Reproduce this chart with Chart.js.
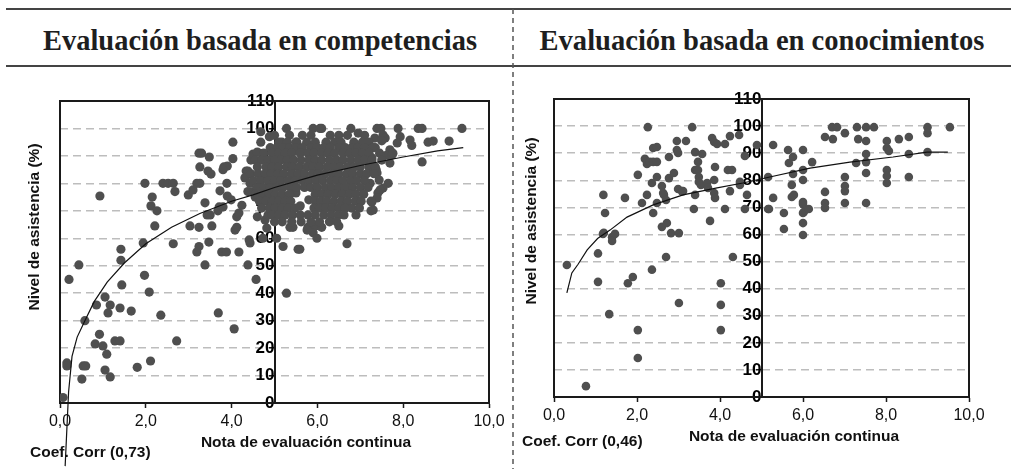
<!DOCTYPE html>
<html>
<head>
<meta charset="utf-8">
<script src="https://cdn.jsdelivr.net/npm/chart.js@4/dist/chart.umd.min.js"></script>
<style>
  html, body { margin: 0; padding: 0; background: #fff; }
  #page { position: relative; width: 1017px; height: 469px; overflow: hidden; }
  .title { position: absolute; top: 26px; line-height: 30px; white-space: nowrap;
           font-family: "Liberation Serif", serif; font-weight: bold; color: #1e1e1e; transform: translateX(-50%); }
  canvas { position: absolute; top: 70px; }
  svg { position: absolute; left: 0; top: 0; }
</style>
</head>
<body>
<div id="page">
  <svg width="1017" height="469">
    <line x1="6" y1="9" x2="1011" y2="9" stroke="#444" stroke-width="2"/>
    <line x1="6" y1="66" x2="1011" y2="66" stroke="#444" stroke-width="2"/>
    <line x1="513" y1="9" x2="513" y2="469" stroke="#555" stroke-width="1.5" stroke-dasharray="5,4"/>
  </svg>
  <div class="title" id="title-left" style="left:260px"></div>
  <div class="title" id="title-right" style="left:762px"></div>
  <canvas id="chart-left" width="510" height="399" style="left:0px"></canvas>
  <canvas id="chart-right" width="502" height="399" style="left:515px"></canvas>
</div>
<script>
// titles and labels
const titleLeft = 'Evaluación basada en competencias';
const titleRight = 'Evaluación basada en conocimientos';
const xAxisTitle = 'Nota de evaluación continua';
const yAxisTitle = 'Nivel de asistencia (%)';
const corrLeft = 'Coef. Corr (0,73)';
const corrRight = 'Coef. Corr (0,46)';

const xTicks = [0, 2, 4, 6, 8, 10];
const yTicks = [0, 10, 20, 30, 40, 50, 60, 70, 80, 90, 100, 110];

// competencias: scattered students (x = nota, y = asistencia)
const compSparse = [
    [0.07, 2], [0.16, 14.6], [0.16, 13.5], [0.21, 45], [0.44, 50.3], [0.51, 8.7], [0.58, 30],
    [0.54, 13.5], [0.6, 13.5], [0.85, 35.7], [0.93, 75.4], [1.05, 38.6], [1.17, 35.7], [1.12, 32.8],
    [1.4, 34.6], [1.66, 33.5], [1.44, 43], [0.92, 25], [0.82, 21.5], [1.0, 20.8], [1.09, 17.8],
    [1.28, 22.6], [1.4, 22.6], [1.05, 12], [1.17, 9.5], [1.8, 13], [2.11, 15.3], [2.08, 40.4],
    [1.97, 46.5], [2.35, 32], [2.72, 22.6], [3.69, 32.8], [4.06, 27], [4.57, 45], [5.28, 40],
    [1.42, 56], [1.42, 52], [1.94, 58.3], [2.64, 58], [1.98, 80], [2.4, 80], [2.52, 80], [2.64, 80],
    [2.68, 77], [2.15, 75], [2.12, 71.8], [2.26, 70], [2.21, 64.5],
    [2.99, 75.8], [3.1, 77.6], [3.19, 80], [3.26, 80], [3.24, 91], [3.3, 91], [3.48, 89.6], [3.26, 86],
    [3.45, 84.5], [3.52, 83.4], [3.38, 72.9], [3.43, 68.5], [3.5, 68.5], [3.54, 64.5], [3.03, 64.5],
    [3.24, 64], [3.24, 57], [3.19, 55], [3.47, 58.6], [3.38, 50.3],
    [3.73, 77.3], [3.71, 71.4], [3.68, 70], [3.8, 71.4], [3.82, 86], [3.9, 86.3], [3.8, 85], [3.89, 80],
    [4.03, 95], [4.03, 89], [3.9, 75.4], [3.99, 74], [4.12, 67.8], [4.12, 64], [4.08, 63], [3.77, 55],
    [3.88, 55], [4.17, 55], [4.38, 50.3], [4.43, 58.3], [4.41, 59.4], [4.17, 69.2], [4.24, 72],
    [4.34, 84.5], [4.38, 84.5], [4.31, 82], [4.45, 88.5], [4.5, 90.7], [4.6, 91.4], [4.68, 95],
    [4.68, 98.8], [4.88, 97], [4.55, 75], [4.5, 77], [4.38, 77], [4.43, 80], [4.6, 67.8], [4.78, 66.7],
    [4.82, 63.7], [4.85, 68.5], [4.73, 60], [5.05, 60], [5.2, 57], [5.55, 56], [5.28, 100], [5.52, 95],
    [5.17, 95], [5.9, 100], [6.06, 100], [5.43, 64], [5.36, 64], [5.78, 64], [5.95, 64.5], [6.1, 64],
    [5.9, 62], [5.99, 60], [5.76, 63],
    [6.1, 100], [6.78, 100], [7.39, 100], [7.48, 100], [7.88, 100], [8.35, 100], [8.44, 100], [9.37, 100],
    [6.95, 98.3], [7.53, 97.6], [7.58, 96.5], [7.34, 96.5], [7.93, 97], [7.86, 94.7], [8.16, 95.8],
    [8.2, 93.8], [8.58, 95], [8.7, 95.4], [9.07, 95.4], [7.69, 92.2], [7.62, 90.3], [7.74, 90.3],
    [7.76, 91], [7.27, 89.3], [8.44, 87.8], [7.69, 87.4], [7.37, 85], [7.39, 83.8], [7.3, 85],
    [7.44, 81.2], [7.65, 80], [7.23, 80], [7.53, 78.3], [7.46, 77.6], [7.41, 76.5], [7.39, 74.7],
    [7.27, 73.2], [7.3, 70.3], [7.25, 70], [6.76, 79], [6.5, 64.5], [6.69, 58], [5.59, 56],
    [7.5, 95.5], [7.35, 93],
    [5.5, 76.5], [5.8, 74], [5.6, 71.8]
];

// competencias: dense block, read row by row (asistencia, notas)
const compClusterRows = [
    [97.5, [5.0, 5.35, 5.65, 5.85, 6.3, 6.5, 6.7, 7.1]],
    [95,   [5.1, 5.3, 5.5, 5.75, 5.95, 6.2, 6.4, 6.55, 6.85, 7.05, 7.2]],
    [93,   [4.9, 5.05, 5.2, 5.35, 5.5, 5.65, 5.85, 6.0, 6.15, 6.3, 6.5, 6.65, 6.8, 6.95, 7.1, 7.3]],
    [91,   [4.75, 4.95, 5.1, 5.25, 5.4, 5.6, 5.78, 5.92, 6.1, 6.25, 6.4, 6.6, 6.75, 6.9, 7.05, 7.2, 7.45]],
    [88.5, [4.55, 4.7, 4.85, 5.0, 5.15, 5.3, 5.45, 5.62, 5.8, 5.95, 6.1, 6.28, 6.45, 6.6, 6.78, 6.95, 7.1, 7.27, 7.5]],
    [86,   [4.6, 4.8, 4.95, 5.1, 5.28, 5.42, 5.58, 5.75, 5.9, 6.05, 6.22, 6.38, 6.52, 6.7, 6.85, 7.0, 7.2, 7.35]],
    [83.5, [4.45, 4.62, 4.78, 4.92, 5.08, 5.22, 5.4, 5.55, 5.7, 5.88, 6.02, 6.18, 6.35, 6.5, 6.68, 6.82, 7.0, 7.15, 7.32]],
    [81,   [4.5, 4.68, 4.85, 5.0, 5.15, 5.32, 5.48, 5.65, 5.8, 5.97, 6.12, 6.3, 6.45, 6.6, 6.78, 6.92, 7.1]],
    [78.5, [4.6, 4.75, 4.9, 5.05, 5.2, 5.38, 5.52, 5.7, 5.85, 6.0, 6.18, 6.33, 6.5, 6.65, 6.82, 7.0, 7.18]],
    [76,   [4.55, 4.72, 4.88, 5.02, 5.18, 5.35, 5.95, 6.1, 6.25, 6.42, 6.58, 6.75, 6.9, 7.08]],
    [73.5, [4.65, 4.8, 4.95, 5.1, 5.25, 5.38, 5.95, 6.08, 6.22, 6.38, 6.55, 6.7, 6.88, 7.02, 7.25]],
    [71,   [4.7, 4.88, 5.02, 5.18, 5.32, 5.48, 5.92, 6.05, 6.2, 6.35, 6.5, 6.65, 6.8, 6.98]],
    [68.5, [4.95, 5.1, 5.25, 5.42, 5.6, 5.78, 5.95, 6.15, 6.32, 6.48, 6.62, 6.9]],
    [66,   [5.0, 5.18, 5.4, 5.62, 5.85, 6.05, 6.28, 6.45]]
];

// competencias: trend line as drawn in the figure
const compTrend = [
    [0.12, -23], [0.2, 4], [0.28, 17], [0.4, 24], [0.58, 30], [0.8, 37], [1.1, 44], [1.5, 51],
    [2.0, 58], [2.6, 64], [3.26, 69], [4.0, 73.5], [4.5, 75.8], [5.0, 78.5], [6.0, 83], [7.0, 86.5],
    [8.0, 89.6], [8.8, 91.8], [9.4, 93]
];

// conocimientos
const knowPoints = [
    [0.31, 48.7], [0.77, 4], [1.06, 42.5], [1.06, 53], [1.19, 74.6], [1.23, 67.9], [1.18, 60.2],
    [1.2, 60.6], [1.4, 59], [1.47, 60.2], [1.4, 57.6], [1.33, 30.6], [1.71, 73.5], [1.78, 42],
    [1.9, 44.3], [2.02, 82], [2.02, 24.7], [2.02, 14.4], [2.12, 71.6], [2.24, 74.6], [2.26, 99.6],
    [2.19, 87.9], [2.24, 86], [2.31, 86.8], [2.39, 86.8], [2.48, 86.8], [2.39, 91.9], [2.48, 92.3],
    [2.36, 79], [2.36, 47], [2.39, 67.9], [2.48, 81.2], [2.48, 71.6], [2.6, 77.9], [2.63, 75.3],
    [2.65, 74.6], [2.6, 62.8], [2.72, 64.2], [2.7, 72.7], [2.7, 51.7], [2.77, 88.6], [2.82, 60.5],
    [2.77, 80.8], [2.89, 82.7], [2.96, 94.5], [2.96, 91.2], [2.99, 90.1], [2.99, 76.8], [3.08, 76],
    [3.11, 76], [3.01, 60.5], [3.01, 34.7], [3.18, 94.5], [3.33, 99.6], [3.4, 90.4], [3.57, 89.7],
    [3.4, 83.8], [3.47, 83.8], [3.47, 86.8], [3.49, 81.2], [3.49, 79.4], [3.54, 78.3], [3.4, 74.6],
    [3.37, 69.4], [3.69, 79], [3.71, 77.2], [3.81, 95.6], [3.86, 94.1], [3.93, 93.4], [3.88, 84.9],
    [3.86, 80.1], [3.86, 75.3], [3.88, 73.5], [3.76, 65], [4.02, 42], [4.02, 34], [4.02, 24.7],
    [4.12, 93.4], [4.19, 83.8], [4.29, 83.8], [4.24, 96.3], [4.12, 69.4], [4.24, 76], [4.31, 51.7],
    [4.46, 96.7], [4.48, 79.4], [4.48, 78.3], [4.6, 89], [4.65, 74.6], [4.6, 69.4], [4.89, 93],
    [5.16, 69.4], [5.16, 81.2], [5.28, 93], [5.64, 91.2], [5.76, 88.6], [5.66, 86.4], [6.0, 91.2],
    [6.22, 86.7], [6.0, 83.8], [6.0, 80.1], [5.76, 82.3], [5.73, 78.3], [5.28, 73.5], [5.73, 73.8],
    [5.78, 74.6], [5.18, 69.4], [5.54, 67.9], [5.54, 62], [6.0, 72], [6.0, 71.2], [6.02, 68.3],
    [6.0, 67.9], [6.14, 69.4], [6.0, 64.2], [6.0, 59.8], [6.53, 96], [6.72, 95.2], [6.7, 99.6],
    [6.82, 99.6], [7.01, 97.4], [6.53, 75.7], [6.53, 71.6], [6.53, 69.8], [7.01, 81.2], [7.01, 77.9],
    [7.01, 76], [7.01, 71.6], [7.3, 99.6], [7.52, 99.6], [7.71, 99.6], [7.33, 95.2], [7.52, 94.5],
    [7.52, 89.7], [7.52, 86.7], [7.28, 86.4], [7.52, 82.7], [7.52, 71.6], [8.02, 94.5], [8.02, 91.9],
    [8.07, 90.8], [8.02, 83.8], [8.02, 81.6], [8.02, 79], [8.31, 95.2], [8.55, 96], [8.55, 89.7],
    [8.55, 81.2], [9.0, 99.6], [9.0, 97.4], [9.0, 90.4], [9.54, 99.6]
];

const knowTrend = [
    [0.31, 38.4], [0.43, 45.8], [0.58, 49], [0.8, 54.3], [1.05, 58.5], [1.35, 61.6], [1.76, 66.4],
    [2.39, 70.9], [3.11, 74.6], [3.93, 77.2], [4.55, 79], [5.2, 81.2], [6.17, 84.5], [7.13, 86.7],
    [8.17, 88.6], [8.99, 90.4], [9.49, 90.4]
];

const toXY = pairs => pairs.map(([x, y]) => ({ x, y }));
const compPoints = compSparse.concat(
    compClusterRows.flatMap(([y, xs]) => xs.map(x => [x, y]))
);

// frame round the plot area + free-standing axis texts
const frameAndText = {
    id: 'frameAndText',
    beforeDatasetsDraw(chart) {
        const { ctx, chartArea: a } = chart;
        ctx.save();
        ctx.strokeStyle = '#1a1a1a';
        ctx.lineWidth = 2;
        ctx.strokeRect(a.left, a.top, a.right - a.left, a.bottom - a.top);
        ctx.restore();
    },
    afterDraw(chart, args, opts) {
        const { ctx } = chart;
        ctx.save();
        ctx.fillStyle = '#111';
        ctx.font = 'bold 15.5px "Liberation Sans", Arial, sans-serif';
        ctx.textBaseline = 'middle';
        (opts.labels || []).forEach(l => {
            ctx.save();
            ctx.translate(l.x, l.y);
            if (l.rotate) ctx.rotate(l.rotate);
            ctx.textAlign = l.align || 'center';
            ctx.fillText(l.text, 0, 0);
            ctx.restore();
        });
        ctx.restore();
    }
};

function makeChart(id, points, trend, pointRadius, padding, labels) {
    return new Chart(document.getElementById(id), {
        type: 'scatter',
        data: {
            datasets: [
                {
                    data: toXY(trend),
                    showLine: true,
                    borderColor: '#111',
                    borderWidth: 1.2,
                    pointRadius: 0,
                    tension: 0,
                    clip: false,
                    order: 0
                },
                {
                    data: toXY(points),
                    backgroundColor: '#4f4f4f',
                    borderWidth: 0,
                    pointRadius: pointRadius,
                    order: 1
                }
            ]
        },
        options: {
            responsive: false,
            animation: false,
            layout: { padding },
            plugins: {
                legend: { display: false },
                tooltip: { enabled: false },
                frameAndText: { labels }
            },
            scales: {
                x: {
                    type: 'linear',
                    min: xTicks[0],
                    max: xTicks[xTicks.length - 1],
                    afterBuildTicks: s => { s.ticks = xTicks.map(v => ({ value: v })); },
                    afterFit: s => { s.height = 40; },
                    grid: { drawOnChartArea: false, tickLength: 5, tickColor: '#1a1a1a', tickWidth: 1.5 },
                    border: { color: '#1a1a1a', width: 2 },
                    ticks: {
                        color: '#111',
                        padding: 4,
                        maxRotation: 0,
                        font: { family: '"Liberation Sans", Arial, sans-serif', size: 16 },
                        callback: v => v.toFixed(1).replace('.', ',')
                    }
                },
                y: {
                    type: 'linear',
                    position: { x: 5 },
                    min: yTicks[0],
                    max: yTicks[yTicks.length - 1],
                    afterBuildTicks: s => { s.ticks = yTicks.map(v => ({ value: v })); },
                    grid: {
                        color: c => (c.tick && (c.tick.value === 0 || c.tick.value === 110)) ? 'rgba(0,0,0,0)' : '#bdbdbd',
                        lineWidth: 1.5,
                        tickLength: 5,
                        tickColor: '#1a1a1a',
                        tickWidth: 1.5
                    },
                    border: { color: '#1a1a1a', width: 2, dash: [8, 5] },
                    ticks: {
                        color: '#000',
                        padding: -6,
                        font: { family: '"Liberation Sans", Arial, sans-serif', size: 17, weight: 'bold' },
                        callback: v => String(v)
                    }
                }
            }
        },
        plugins: [frameAndText]
    });
}

function fitTitle(el, text, width) {
    const c = document.createElement('canvas').getContext('2d');
    c.font = 'bold 100px "Liberation Serif"';
    el.textContent = text;
    el.style.fontSize = (100 * width / c.measureText(text).width).toFixed(2) + 'px';
}

fitTitle(document.getElementById('title-left'), titleLeft, 434);
fitTitle(document.getElementById('title-right'), titleRight, 445);

makeChart('chart-left', compPoints, compTrend, 4.6,
    { left: 60, right: 21, top: 31, bottom: 26 },
    [
        { text: yAxisTitle, x: 35, y: 157, rotate: -Math.PI / 2 },
        { text: xAxisTitle, x: 306, y: 373 },
        { text: corrLeft, x: 30, y: 383, align: 'left' }
    ]);

makeChart('chart-right', knowPoints, knowTrend, 4.3,
    { left: 39, right: 48, top: 29, bottom: 32 },
    [
        { text: yAxisTitle, x: 17, y: 151, rotate: -Math.PI / 2 },
        { text: xAxisTitle, x: 279, y: 367 },
        { text: corrRight, x: 7, y: 372, align: 'left' }
    ]);
</script>
</body>
</html>
